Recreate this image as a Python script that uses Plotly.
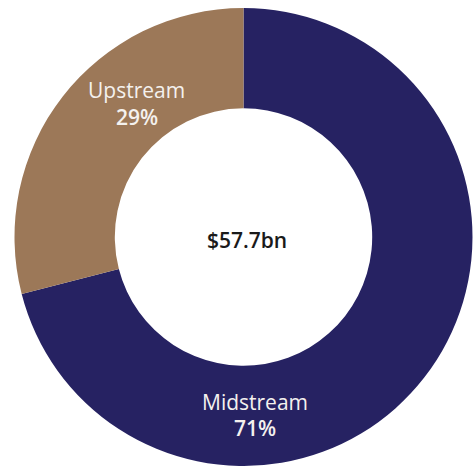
import plotly.graph_objects as go

# Share of total by segment
segments = ["Midstream", "Upstream"]
shares = [71, 29]
total_label = "$57.7bn"

colors = ["#262262", "#9c7858"]

fig = go.Figure(
    go.Pie(
        labels=segments,
        values=shares,
        hole=0.562,
        sort=False,
        direction="clockwise",
        rotation=0,
        marker=dict(colors=colors, line=dict(width=0)),
        textinfo="none",
        hoverinfo="label+percent",
        showlegend=False,
    )
)

font_family = "Open Sans, Noto Sans, sans-serif"

W, H = 474, 466
ML, MR, MT, MB = 14, 1, 8, 0
PW, PH = W - ML - MR, H - MT - MB


def px_to_paper(x, y):
    return (x - ML) / PW, 1 - (y - MT) / PH


def note(x, y, text, size, color, weight="normal"):
    ax, ay = px_to_paper(x, y)
    return dict(
        x=ax, y=ay, xref="paper", yref="paper",
        xanchor="center", yanchor="middle",
        text=text, showarrow=False,
        font=dict(family=font_family, size=size, color=color, weight=weight),
    )


# Segment labels placed inside the ring
label_pos = {"Upstream": (136.5, 90, 117), "Midstream": (255, 402, 428)}
annotations = []
for name, val in zip(segments, shares):
    x, y_name, y_val = label_pos[name]
    annotations.append(note(x, y_name, name, 21, "#f4f1ee"))
    annotations.append(note(x, y_val, f"{val}%", 21, "#f4f1ee", 600))

# Total in the centre of the ring
annotations.append(note(247, 240, total_label, 21, "#1a1a1a", 600))

fig.update_layout(
    width=W, height=H,
    margin=dict(l=ML, r=MR, t=MT, b=MB),
    paper_bgcolor="white",
    plot_bgcolor="white",
    annotations=annotations,
)

fig.write_html("out.html")
